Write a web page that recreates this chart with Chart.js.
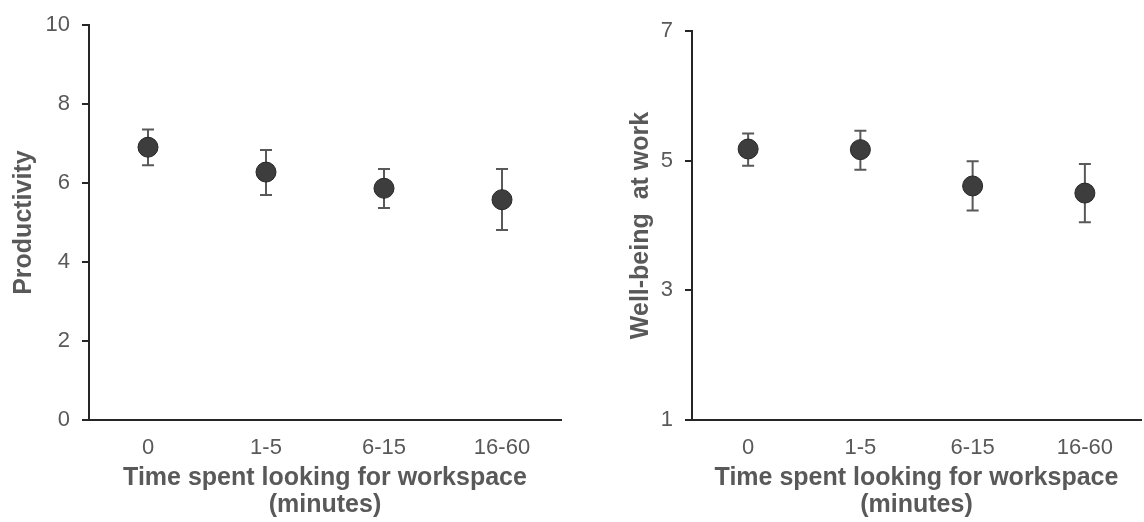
<!DOCTYPE html>
<html>
<head>
<meta charset="utf-8">
<script src="https://cdn.jsdelivr.net/npm/chart.js@4"></script>
<style>
  html, body { margin: 0; padding: 0; background: #fff; overflow: hidden; }
  #wrap { position: relative; width: 1144px; height: 522px; overflow: hidden; }
  #prodChart { position: absolute; left: 0; top: 0; }
  #wellChart { position: absolute; left: 572px; top: 0; }
</style>
</head>
<body>
<div id="wrap">
  <canvas id="prodChart" width="572" height="522"></canvas>
  <canvas id="wellChart" width="580" height="522"></canvas>
</div>
<script>
// Categorias del eje X
const categorias = ['0', '1-5', '6-15', '16-60'];

// Productividad: media y extremos de la barra de error
const prodMedia = [6.91, 6.28, 5.87, 5.58];
const prodBajo = [6.45, 5.70, 5.37, 4.81];
const prodAlto = [7.36, 6.84, 6.36, 6.36];
const prodTicks = [0, 2, 4, 6, 8, 10];

// Bienestar en el trabajo
const bienMedia = [5.18, 5.17, 4.61, 4.50];
const bienBajo = [4.92, 4.86, 4.23, 4.05];
const bienAlto = [5.42, 5.46, 4.99, 4.95];
const bienTicks = [1, 3, 5, 7];

const gris = '#595959';
const ejeColor = '#262626';

// Plugin sencillo para dibujar barras de error detras de los puntos
const errorBars = {
    id: 'errorBars',
    beforeDatasetsDraw(chart, args, opts) {
        const { ctx, scales: { x, y } } = chart;
        ctx.save();
        ctx.strokeStyle = gris;
        ctx.lineWidth = 2;
        opts.low.forEach((lo, i) => {
            const px = x.getPixelForValue(i);
            const yLo = y.getPixelForValue(lo);
            const yHi = y.getPixelForValue(opts.high[i]);
            ctx.beginPath();
            ctx.moveTo(px, yLo);
            ctx.lineTo(px, yHi);
            ctx.moveTo(px - 6, yLo);
            ctx.lineTo(px + 6, yLo);
            ctx.moveTo(px - 6, yHi);
            ctx.lineTo(px + 6, yHi);
            ctx.stroke();
        });
        ctx.restore();
    }
};

function makeChart(id, media, bajo, alto, ticks, yTitle, yWidth, padTop, padRight, titlePad) {
    const ctx = document.getElementById(id).getContext('2d');
    return new Chart(ctx, {
        type: 'line',
        data: {
            labels: categorias,
            datasets: [{
                data: media,
                showLine: false,
                pointRadius: 10,
                pointHoverRadius: 10,
                pointBackgroundColor: '#3d3d3d',
                pointBorderColor: '#262626',
                pointBorderWidth: 1
            }]
        },
        options: {
            responsive: false,
            animation: false,
            devicePixelRatio: 1,
            layout: { padding: { top: padTop, right: padRight, left: 0, bottom: 0 } },
            plugins: {
                legend: { display: false },
                tooltip: { enabled: false },
                errorBars: { low: bajo, high: alto }
            },
            scales: {
                x: {
                    type: 'category',
                    offset: true,
                    grid: { display: false, drawTicks: false },
                    border: { display: true, color: ejeColor, width: 2 },
                    ticks: { color: gris, padding: 15, font: { family: 'Liberation Sans', size: 22 } },
                    title: {
                        display: true,
                        text: ['Time spent looking for workspace', '(minutes)'],
                        color: gris,
                        padding: { top: 0, bottom: 3 },
                        font: { family: 'Liberation Sans', size: 25, weight: 'bold', lineHeight: 1.08 }
                    },
                    afterFit(scale) { scale.height = 102; }
                },
                y: {
                    min: ticks[0],
                    max: ticks[ticks.length - 1],
                    afterBuildTicks(scale) { scale.ticks = ticks.map(v => ({ value: v })); },
                    grid: { display: true, drawOnChartArea: false, drawTicks: true, tickLength: 7, color: ejeColor, lineWidth: 2 },
                    border: { display: true, color: ejeColor, width: 2 },
                    ticks: { color: gris, padding: 12, font: { family: 'Liberation Sans', size: 22 } },
                    title: {
                        display: true,
                        text: yTitle,
                        color: gris,
                        padding: { top: titlePad, bottom: 0 },
                        font: { family: 'Liberation Sans', size: 25, weight: 'bold', lineHeight: 1.08 }
                    },
                    afterFit(scale) { scale.width = yWidth; }
                }
            }
        },
        plugins: [errorBars]
    });
}

makeChart('prodChart', prodMedia, prodBajo, prodAlto, prodTicks, 'Productivity', 89, 23, 10, 11);
makeChart('wellChart', bienMedia, bienBajo, bienAlto, bienTicks, 'Well-being  at work', 120, 31, 3, 56);
</script>
</body>
</html>
